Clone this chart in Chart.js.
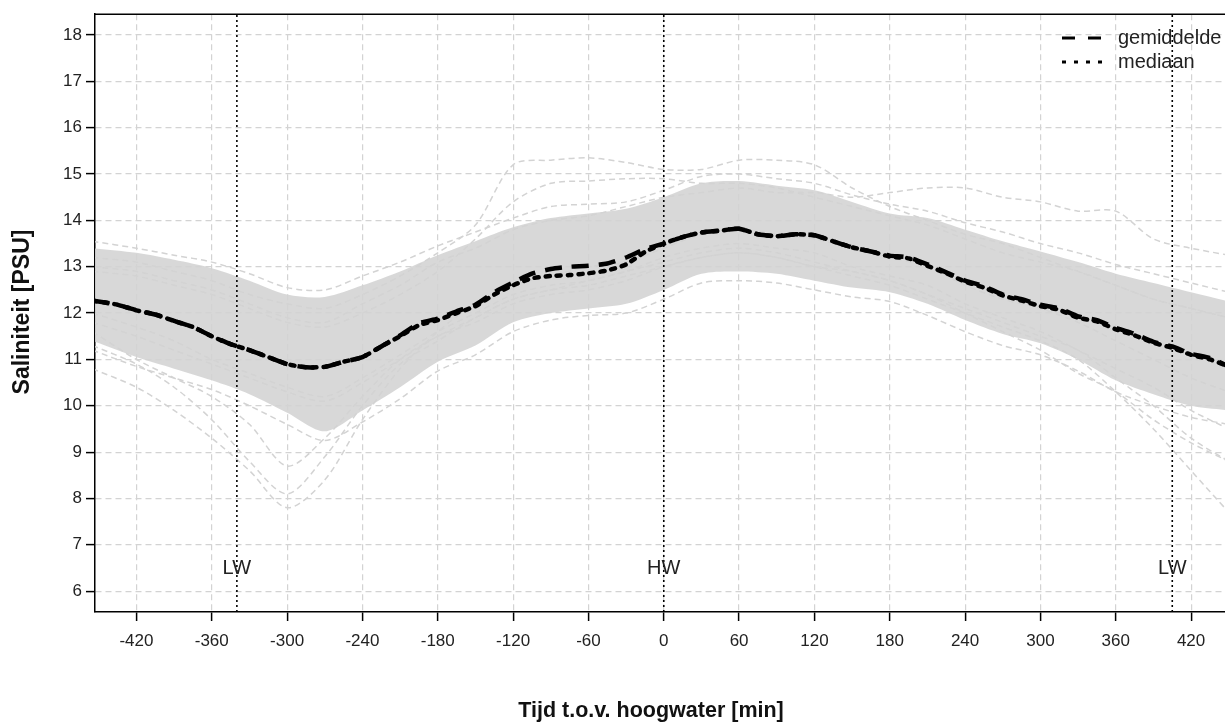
<!DOCTYPE html>
<html>
<head>
<meta charset="utf-8">
<script src="https://cdn.jsdelivr.net/npm/chart.js@4"></script>
<style>
  body { margin: 0; background: #fff; }
  canvas { display: block; }
</style>
</head>
<body>
<canvas id="chart" width="1225" height="722"></canvas>
<script>
// tick labels
const xTicks = [-420, -360, -300, -240, -180, -120, -60, 0, 60, 120, 180, 240, 300, 360, 420];
const yTicks = [6, 7, 8, 9, 10, 11, 12, 13, 14, 15, 16, 17, 18];

// mean / median, every 15 min
const statTime = [-455, -435, -420, -405, -390, -375, -360, -345, -330, -315, -300, -285, -270, -255, -240, -225, -210, -195, -180, -165, -150, -135, -120, -105, -90, -75, -60, -45, -30, -15, 0,
    15, 30, 45, 60, 75, 90, 105, 120, 135, 150, 165, 180, 195, 210, 225, 240, 255, 270, 285, 300, 315, 330, 345, 360, 375, 390, 405, 420, 435, 450];
const gemiddelde = [12.27, 12.18, 12.06, 11.97, 11.83, 11.7, 11.5, 11.33, 11.2, 11.05, 10.9, 10.83, 10.84, 10.95, 11.05, 11.28, 11.52, 11.78, 11.88, 12.04, 12.18, 12.45, 12.66, 12.85, 12.95, 13.0, 13.02, 13.07, 13.2, 13.38, 13.5,
    13.64, 13.74, 13.78, 13.82, 13.7, 13.66, 13.7, 13.68, 13.55, 13.42, 13.33, 13.24, 13.2, 13.05, 12.88, 12.7, 12.58, 12.4, 12.3, 12.18, 12.1, 11.93, 11.85, 11.68, 11.55, 11.38, 11.28, 11.12, 11.03, 10.85];
const mediaan = [12.27, 12.18, 12.06, 11.97, 11.83, 11.7, 11.5, 11.33, 11.2, 11.05, 10.9, 10.83, 10.84, 10.95, 11.05, 11.28, 11.5, 11.74, 11.85, 12.0, 12.15, 12.4, 12.6, 12.75, 12.8, 12.82, 12.86, 12.92, 13.05, 13.32, 13.5,
    13.64, 13.74, 13.78, 13.82, 13.7, 13.66, 13.7, 13.68, 13.55, 13.42, 13.33, 13.22, 13.18, 13.02, 12.86, 12.68, 12.55, 12.38, 12.27, 12.15, 12.07, 11.9, 11.82, 11.65, 11.52, 11.36, 11.25, 11.1, 11.0, 10.85];

// individual tides (grey), every 30 min
const tideTime = [-455, -420, -390, -360, -330, -300, -270, -240, -210, -180, -150, -120, -90, -60, -30, 0,
    30, 60, 90, 120, 150, 180, 210, 240, 270, 300, 330, 360, 390, 420, 450];
const bandUpper = [13.4, 13.3, 13.15, 12.97, 12.7, 12.4, 12.35, 12.6, 12.9, 13.25, 13.55, 13.85, 14.05, 14.15, 14.25, 14.5,
    14.8, 14.85, 14.75, 14.65, 14.4, 14.15, 14.05, 13.8, 13.55, 13.33, 13.1, 12.85, 12.65, 12.45, 12.25];
const bandLower = [11.4, 11.05, 10.8, 10.55, 10.25, 9.85, 9.45, 9.9, 10.4, 10.95, 11.3, 11.8, 12.0, 12.1, 12.2, 12.5,
    12.85, 12.9, 12.85, 12.7, 12.55, 12.45, 12.2, 11.85, 11.55, 11.35, 11.0, 10.55, 10.25, 10.0, 9.9];
const tideA = [10.8, 10.4, 9.9, 9.3, 8.6, 7.8, 8.4, 9.7, 10.8, 11.6, 12.2, 12.6, 12.8, 13.0, 13.1, 13.4,
    13.7, 13.8, 13.7, 13.6, 13.4, 13.2, 13.0, 12.6, 12.3, 12.1, 11.8, 11.4, 11.0, 10.6, 10.3];
const tideB = [11.3, 10.9, 10.4, 9.7, 8.8, 8.1, 8.9, 10.0, 10.9, 11.4, 11.9, 12.3, 12.5, 12.7, 12.9, 13.2,
    13.4, 13.5, 13.4, 13.3, 13.0, 12.8, 12.6, 12.2, 11.9, 11.6, 11.2, 10.8, 10.4, 9.9, 9.5];
const tideC = [11.6, 11.0, 10.6, 10.2, 9.6, 8.7, 9.3, 10.2, 11.0, 11.5, 11.8, 12.2, 12.4, 12.5, 12.7, 13.0,
    13.2, 13.3, 13.2, 13.0, 12.9, 12.7, 12.4, 12.0, 11.6, 11.2, 10.7, 10.3, 9.7, 9.2, 8.8];
const tideD = [13.2, 13.1, 12.9, 12.7, 12.4, 12.2, 12.1, 12.4, 12.8, 13.3, 13.9, 15.2, 15.3, 15.35, 15.25, 15.1,
    15.1, 15.3, 15.3, 15.2, 14.7, 14.3, 14.0, 13.7, 13.5, 13.2, 12.9, 12.6, 12.3, 12.1, 11.9];
const tideE = [13.0, 12.9, 12.7, 12.5, 12.2, 11.9, 11.8, 12.2, 12.6, 13.1, 13.4, 13.8, 14.0, 14.1, 14.3, 14.5,
    14.6, 14.7, 14.6, 14.6, 14.5, 14.6, 14.7, 14.7, 14.5, 14.4, 14.2, 14.2, 13.6, 13.4, 13.25];
const tideF = [12.9, 12.8, 12.6, 12.4, 12.1, 11.8, 11.7, 12.0, 12.4, 12.9, 13.6, 14.4, 14.8, 14.85, 14.9, 14.9,
    14.8, 14.8, 14.7, 14.5, 14.3, 14.1, 13.9, 13.6, 13.3, 13.1, 12.9, 12.6, 12.3, 12.1, 11.9];
const tideG = [11.8, 11.5, 11.2, 10.9, 10.6, 10.3, 10.1, 10.5, 11.0, 11.5, 11.9, 12.3, 12.5, 12.6, 12.8, 13.0,
    13.2, 13.3, 13.2, 13.0, 12.8, 12.6, 12.3, 12.0, 11.7, 11.4, 11.0, 10.3, 9.5, 8.6, 7.7];
const tideH = [12.0, 11.7, 11.4, 11.0, 10.7, 10.4, 10.2, 10.6, 11.1, 11.6, 12.0, 12.4, 12.6, 12.7, 12.9, 13.1,
    13.3, 13.4, 13.3, 13.1, 12.9, 12.7, 12.4, 12.1, 11.8, 11.5, 11.2, 10.6, 10.0, 9.3, 8.8];
const tideUp = [13.55, 13.4, 13.25, 13.1, 12.85, 12.55, 12.5, 12.8, 13.1, 13.45, 13.75, 14.05, 14.3, 14.35, 14.4, 14.65,
    14.95, 15.0, 14.9, 14.8, 14.55, 14.35, 14.2, 13.95, 13.75, 13.5, 13.3, 13.05, 12.85, 12.65, 12.45];
const tideLo = [11.2, 10.85, 10.6, 10.35, 10.0, 9.6, 9.25, 9.65, 10.15, 10.75, 11.1, 11.6, 11.85, 11.95, 12.0, 12.3,
    12.65, 12.7, 12.65, 12.5, 12.35, 12.25, 11.95, 11.6, 11.3, 11.1, 10.75, 10.3, 10.0, 9.75, 9.6];

// LW / HW moments
const lwTimes = [-340, 405];
const hwTimes = [0];

const X_MIN = -453, X_MAX = 447, Y_MIN = 5.55, Y_MAX = 18.45;
const GREY = '#d3d3d3';
const FONT = '"Liberation Sans", Arial, sans-serif';

function pts(xs, ys) {
    return xs.map((x, i) => ({x: x, y: ys[i]}));
}

const datasets = [];

datasets.push({
    label: 'band-boven', data: pts(tideTime, bandUpper),
    borderWidth: 0, pointRadius: 0, fill: false, tension: 0.3, order: 20
});
datasets.push({
    label: 'band-onder', data: pts(tideTime, bandLower),
    borderWidth: 0, pointRadius: 0, fill: '-1', backgroundColor: 'rgba(211,211,211,0.88)', tension: 0.3, order: 20
});

[tideA, tideB, tideC, tideD, tideE, tideF, tideG, tideH, tideUp, tideLo].forEach((t, i) => {
    datasets.push({
        label: 'getij' + i, data: pts(tideTime, t),
        borderColor: GREY, borderWidth: 1.5, borderDash: [6, 4], pointRadius: 0, tension: 0.3, order: 10
    });
});

lwTimes.concat(hwTimes).forEach((t, i) => {
    datasets.push({
        label: 'ref' + i, data: [{x: t, y: Y_MIN}, {x: t, y: Y_MAX}],
        borderColor: '#000', borderWidth: 1.6, borderDash: [2, 3], pointRadius: 0, order: 5
    });
});

datasets.push({
    label: 'mediaan', data: pts(statTime, mediaan),
    borderColor: '#000', borderWidth: 4.5, borderDash: [4, 7], borderCapStyle: 'round',
    pointRadius: 0, tension: 0.2, order: 1
});
datasets.push({
    label: 'gemiddelde', data: pts(statTime, gemiddelde),
    borderColor: '#000', borderWidth: 4.5, borderDash: [17, 10],
    pointRadius: 0, tension: 0.2, order: 0
});

// labels, legend, titles, top frame line
const decorations = {
    id: 'decorations',
    afterDraw(chart) {
        const ctx = chart.ctx;
        const xs = chart.scales.x, ys = chart.scales.y;
        const area = chart.chartArea;
        ctx.save();
        ctx.strokeStyle = '#000';
        ctx.lineWidth = 1.5;
        ctx.beginPath();
        ctx.moveTo(area.left, area.top);
        ctx.lineTo(area.right, area.top);
        ctx.stroke();

        ctx.fillStyle = '#222';
        ctx.font = '20px ' + FONT;
        ctx.textAlign = 'center';
        ctx.textBaseline = 'middle';
        lwTimes.forEach(t => ctx.fillText('LW', xs.getPixelForValue(t), ys.getPixelForValue(6.49)));
        hwTimes.forEach(t => ctx.fillText('HW', xs.getPixelForValue(t), ys.getPixelForValue(6.49)));

        // legend
        ctx.textAlign = 'left';
        const items = [
            {text: 'gemiddelde', dash: [13, 13], y: 38},
            {text: 'mediaan', dash: [4, 8], y: 62}
        ];
        items.forEach(it => {
            ctx.setLineDash(it.dash);
            ctx.lineWidth = 3;
            ctx.strokeStyle = '#000';
            ctx.beginPath();
            ctx.moveTo(1062, it.y);
            ctx.lineTo(1106, it.y);
            ctx.stroke();
            ctx.setLineDash([]);
            ctx.fillStyle = '#222';
            ctx.fillText(it.text, 1118, it.y);
        });

        // axis titles
        ctx.fillStyle = '#111';
        ctx.font = 'bold 21.5px ' + FONT;
        ctx.textAlign = 'center';
        ctx.fillText('Tijd t.o.v. hoogwater [min]', 651, 711);
        ctx.font = 'bold 23px ' + FONT;
        ctx.translate(23, 312);
        ctx.rotate(-Math.PI / 2);
        ctx.fillText('Saliniteit [PSU]', 0, 0);
        ctx.restore();
    }
};

const tickFont = {family: FONT, size: 17};

new Chart(document.getElementById('chart'), {
    type: 'line',
    data: {datasets: datasets},
    options: {
        responsive: false,
        animation: false,
        devicePixelRatio: 1,
        layout: {padding: {top: 12, right: 0, bottom: 0, left: 0}},
        plugins: {legend: {display: false}, tooltip: {enabled: false}},
        scales: {
            x: {
                type: 'linear', min: X_MIN, max: X_MAX,
                afterBuildTicks: s => { s.ticks = xTicks.map(v => ({value: v})); },
                afterFit: s => { s.height = 110; },
                ticks: {color: '#222', font: tickFont, padding: 10, maxRotation: 0, autoSkip: false},
                grid: {color: GREY, lineWidth: 1.2, tickColor: '#000', tickLength: 9, tickWidth: 1.5},
                border: {color: '#000', width: 1.5, dash: [6, 4]}
            },
            y: {
                type: 'linear', min: Y_MIN, max: Y_MAX,
                afterBuildTicks: s => { s.ticks = yTicks.map(v => ({value: v})); },
                afterFit: s => { s.width = 95; },
                ticks: {color: '#222', font: tickFont, padding: 4},
                grid: {color: GREY, lineWidth: 1.2, tickColor: '#000', tickLength: 9, tickWidth: 1.5},
                border: {color: '#000', width: 1.5, dash: [6, 4]}
            }
        }
    },
    plugins: [decorations]
});
</script>
</body>
</html>
